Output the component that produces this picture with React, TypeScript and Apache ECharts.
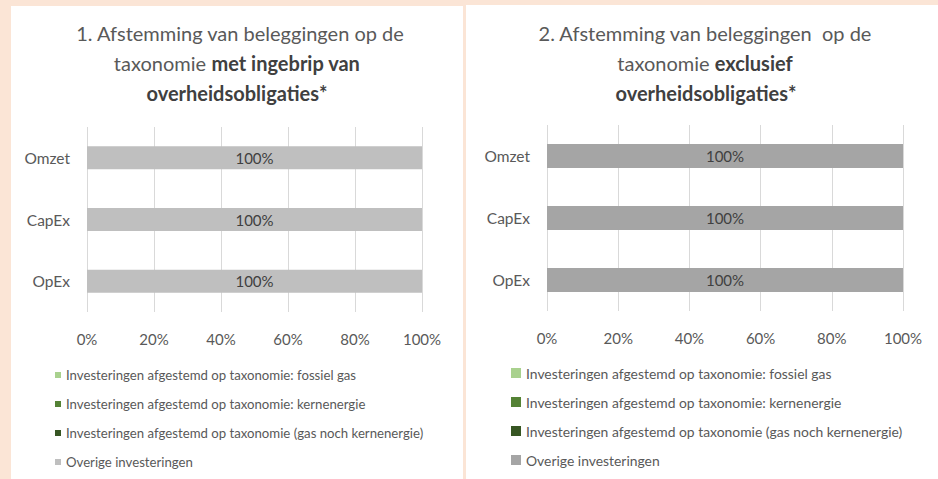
import React, { useEffect, useRef } from "react";
import * as echarts from "echarts";

const categories = ["OpEx", "CapEx", "Omzet"];
const seriesNames = [
  "Investeringen afgestemd op taxonomie: fossiel gas",
  "Investeringen afgestemd op taxonomie: kernenergie",
  "Investeringen afgestemd op taxonomie (gas noch kernenergie)",
  "Overige investeringen",
];
// values per series (OpEx, CapEx, Omzet) for chart 1 and chart 2
const chart1Values = [
  [0, 0, 0],
  [0, 0, 0],
  [0, 0, 0],
  [100, 100, 100],
];
const chart2Values = [
  [0, 0, 0],
  [0, 0, 0],
  [0, 0, 0],
  [100, 100, 100],
];
const xTicks = [0, 20, 40, 60, 80, 100];
const colors1 = ["#a9d18e", "#548235", "#375623", "#bfbfbf"];
const colors2 = ["#a9d18e", "#548235", "#375623", "#a5a5a5"];

const FONT = "Lato, 'Open Sans', sans-serif";
const TXT = "#595959";

export default function App() {
  const ref = useRef<HTMLDivElement>(null);
  useEffect(() => {
    if (!ref.current) return;
    const chart = echarts.init(ref.current, null, { renderer: "svg" });

    const mkSeries = (vals: number[][], cols: string[], idx: number, bw: number) =>
      vals.map((v, i) => ({
        name: seriesNames[i],
        type: "bar",
        stack: "s" + idx,
        xAxisIndex: idx,
        yAxisIndex: idx,
        barWidth: bw,
        data: v,
        itemStyle: { color: cols[i] },
        label: {
          show: true,
          position: "inside",
          color: "#404040",
          fontSize: 15,
          fontFamily: FONT,
          formatter: (p: any) => (p.value > 0 ? p.value + "%" : ""),
        },
      }));

    const xAxisBase = (idx: number) => ({
      type: "value",
      gridIndex: idx,
      min: xTicks[0],
      max: xTicks[xTicks.length - 1],
      interval: 20,
      axisLine: { show: false },
      axisTick: { show: false },
      splitLine: { show: true, lineStyle: { color: "#d9d9d9", width: 1 } },
      axisLabel: {
        formatter: "{value}%",
        color: TXT,
        fontSize: 15,
        fontFamily: FONT,
        margin: 19,
      },
    });
    const yAxisBase = (idx: number) => ({
      type: "category",
      gridIndex: idx,
      data: categories,
      axisLine: { show: false },
      axisTick: { show: false },
      axisLabel: { color: TXT, fontSize: 15.5, fontFamily: FONT, margin: 17 },
    });

    const titleLine = (x: number, y: number, text: string) => ({
      type: "text",
      x,
      y,
      style: {
        text,
        align: "center",
        verticalAlign: "middle",
        fill: TXT,
        fontSize: 20,
        fontFamily: FONT,
        rich: {
          n: { fontSize: 20, fontFamily: FONT, fill: TXT, color: TXT },
          b: { fontSize: 20, fontFamily: FONT, fontWeight: "bold", fill: "#404040", color: "#404040" },
        },
      },
    });

    const legendBase = (left: number, top: number, cols: string[], size: number, fs: number) => ({
      orient: "vertical",
      left,
      top,
      padding: 0,
      itemWidth: size,
      itemHeight: size,
      itemGap: 13,
      icon: "rect",
      selectedMode: false,
      textStyle: { color: TXT, fontSize: fs, fontFamily: FONT, lineHeight: 16 },
      data: seriesNames.map((n, i) => ({ name: n, itemStyle: { color: cols[i] } })),
    });

    chart.setOption({
      animation: false,
      backgroundColor: "#fbe5d6",
      graphic: [
        { type: "rect", shape: { x: 11, y: 6, width: 452, height: 480 }, style: { fill: "#ffffff" }, z: -10 },
        { type: "rect", shape: { x: 466, y: 5, width: 480, height: 480 }, style: { fill: "#ffffff" }, z: -10 },
        titleLine(240, 33, "{n|1. Afstemming van beleggingen op de}"),
        titleLine(237, 63, "{n|taxonomie }{b|met ingebrip van}"),
        titleLine(237, 93, "{b|overheidsobligaties*}"),
        titleLine(705, 33, "{n|2. Afstemming van beleggingen  op de}"),
        titleLine(705, 63, "{n|taxonomie }{b|exclusief}"),
        titleLine(706, 93, "{b|overheidsobligaties*}"),
      ],
      grid: [
        { left: 87, right: 516, top: 127, bottom: 167 },
        { left: 547, right: 35, top: 125, bottom: 168 },
      ],
      xAxis: [xAxisBase(0), xAxisBase(1)],
      yAxis: [yAxisBase(0), yAxisBase(1)],
      legend: [
        legendBase(55, 367, colors1, 6, 13.2),
        legendBase(511, 365, colors2, 10, 13.9),
      ],
      series: [...mkSeries(chart1Values, colors1, 0, 23), ...mkSeries(chart2Values, colors2, 1, 24)],
    });
    return () => chart.dispose();
  }, []);
  return (
    <div
      ref={ref}
      style={{ position: "fixed", left: 0, top: 0, width: 938, height: 479 }}
    />
  );
}
